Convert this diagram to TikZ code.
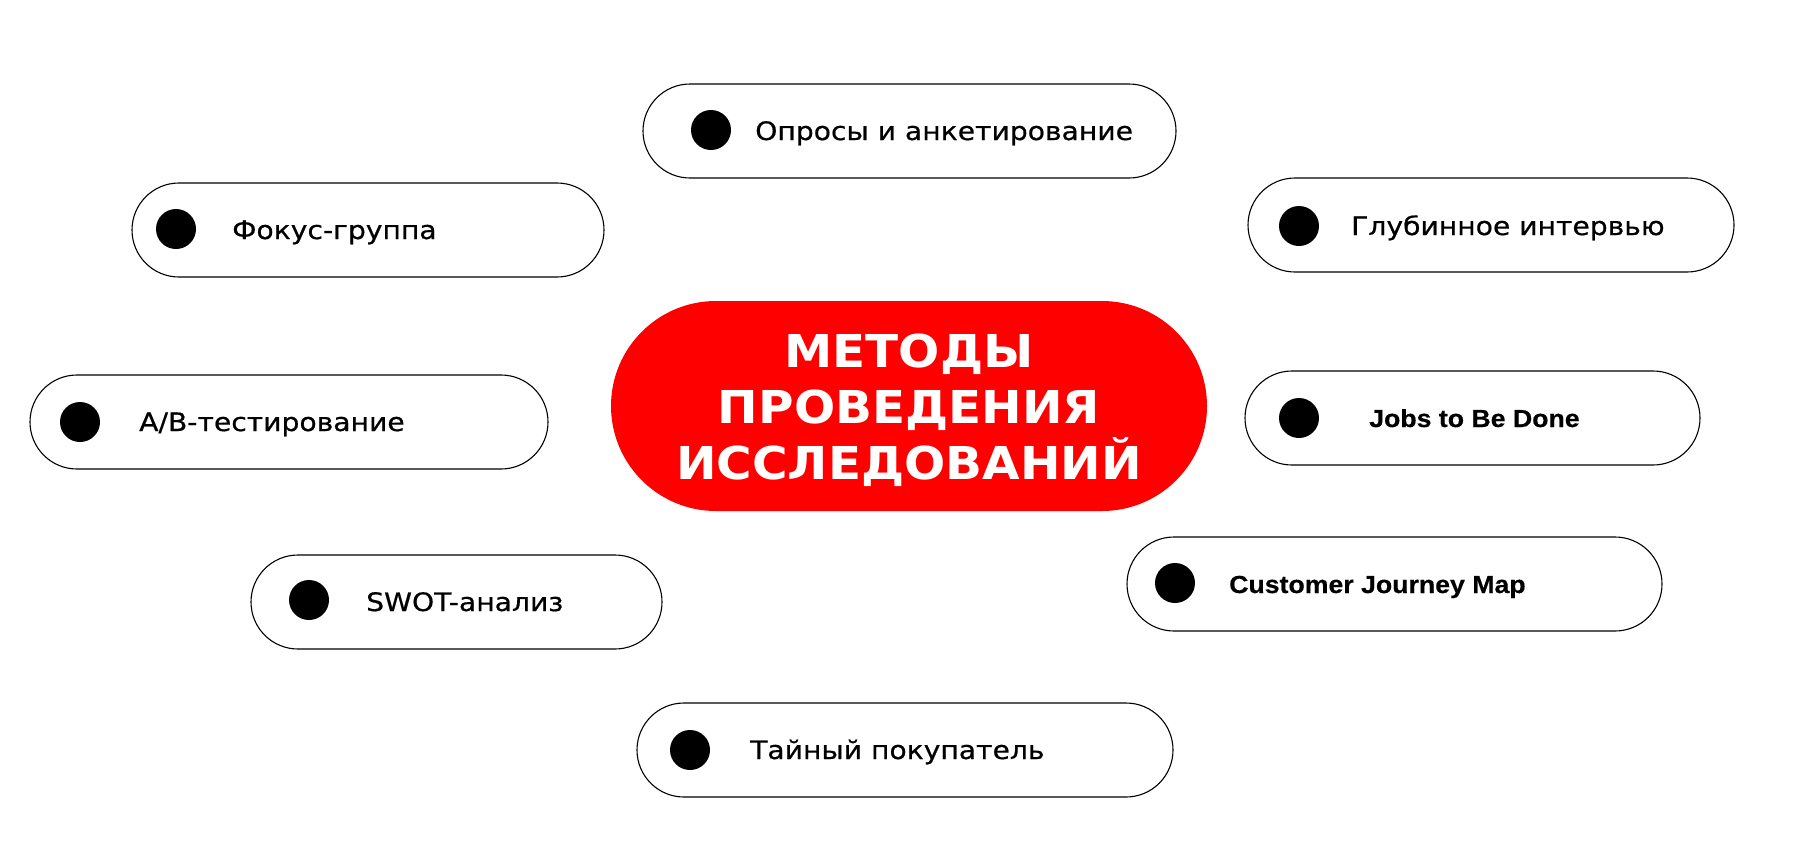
\documentclass[tikz,border=0pt]{standalone}
\usepackage{fontspec}
\setmainfont{DejaVu Sans}
\newfontfamily\labelfont[FakeStretch=1.11,FakeBold=0.6]{DejaVu Sans}
\newfontfamily\titlefont[FakeStretch=1.07]{DejaVu Sans}
\newfontfamily\engfont[FakeStretch=1.08,FakeBold=0.4]{Liberation Sans}
\definecolor{mainred}{RGB}{255,0,0}
\tikzset{
  pill/.style={draw=black, line width=1.1pt, fill=white, rounded corners=47pt,
    minimum height=94pt, inner sep=0pt},
  dotmark/.style={circle, fill=black, minimum size=40pt, inner sep=0pt},
  lbl/.style={anchor=base west, inner sep=0pt, font=\labelfont\fontsize{25.4}{30}\selectfont},
  englbl/.style={anchor=base west, inner sep=0pt, font=\engfont\bfseries\fontsize{24.7}{30}\selectfont},
  ttl/.style={anchor=base, inner sep=0pt, text=white, font=\titlefont\bfseries\fontsize{45.3}{56}\selectfont},
}
\begin{document}
\begin{tikzpicture}[x=1pt, y=-1pt]
\useasboundingbox[fill=white] (0,0) rectangle (1806,841);
% central pill
\node[fill=mainred, rounded corners=105pt, minimum width=596pt, minimum height=210pt, inner sep=0pt] (center) at (909,406) {};
\node[ttl] (t1) at (909,367) {МЕТОДЫ};
\node[ttl] (t2) at (909,423) {ПРОВЕДЕНИЯ};
\node[ttl] (t3) at (909,479) {ИССЛЕДОВАНИЙ};
% 1 Опросы
\node[pill, minimum width=533pt] (p1) at (909.5,131) {};
\node[dotmark] (d1) at (711,130) {};
\node[lbl] (l1) at (755,140) {Опросы и анкетирование};
% 2 Фокус-группа
\node[pill, minimum width=472pt] (p2) at (368,230) {};
\node[dotmark] (d2) at (176,229) {};
\node[lbl] (l2) at (232,239) {Фокус-группа};
% 3 Глубинное интервью
\node[pill, minimum width=486pt] (p3) at (1491,225) {};
\node[dotmark] (d3) at (1299,226) {};
\node[lbl] (l3) at (1351,235) {Глубинное интервью};
% 4 A/B
\node[pill, minimum width=518pt] (p4) at (289,422) {};
\node[dotmark] (d4) at (80,422) {};
\node[lbl] (l4) at (139,431) {A/B-тестирование};
% 5 Jobs
\node[pill, minimum width=455pt] (p5) at (1472.5,418) {};
\node[dotmark] (d5) at (1299,418) {};
\node[englbl] (l5) at (1369,427) {Jobs to Be Done};
% 6 SWOT
\node[pill, minimum width=411pt] (p6) at (456.5,602) {};
\node[dotmark] (d6) at (309,600) {};
\node[lbl] (l6) at (366,611) {SWOT-анализ};
% 7 CJM
\node[pill, minimum width=535pt] (p7) at (1394.5,584) {};
\node[dotmark] (d7) at (1175,583) {};
\node[englbl] (l7) at (1229,593) {Customer Journey Map};
% 8 Тайный покупатель
\node[pill, minimum width=536pt] (p8) at (905,750) {};
\node[dotmark] (d8) at (690,750) {};
\node[lbl] (l8) at (750,759) {Тайный покупатель};
\end{tikzpicture}
\end{document}
